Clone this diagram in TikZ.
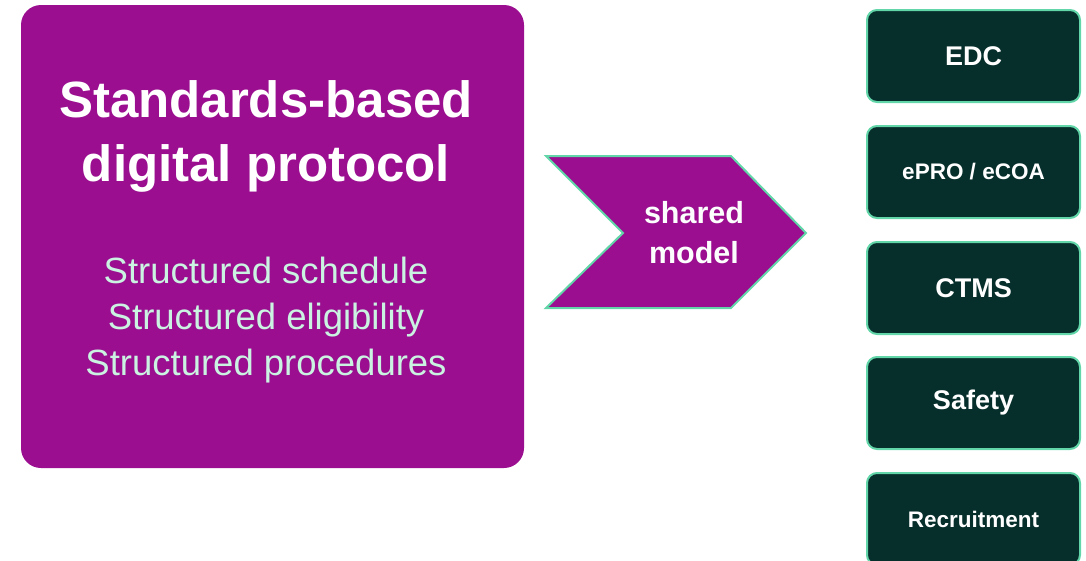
\documentclass[tikz,border=0pt]{standalone}
\usepackage{fontspec}
\setmainfont{Liberation Sans}
\begin{document}
\definecolor{plum}{HTML}{9A0E8F}
\definecolor{mintline}{HTML}{62D6A9}
\definecolor{minttext}{HTML}{CBF3E2}
\definecolor{pine}{HTML}{062E2B}
\begin{tikzpicture}[x=1pt,y=-1pt,
  mainbox/.style={rectangle, rounded corners=20pt, fill=plum, draw=none,
    minimum width=503pt, minimum height=463pt, inner sep=0pt},
  title/.style={anchor=base, text=white, font=\fontsize{51}{60}\selectfont\bfseries},
  bodyline/.style={anchor=base, text=minttext, font=\fontsize{36.5}{44}\selectfont},
  chevtext/.style={anchor=base, text=white!92!minttext, font=\fontsize{30.5}{36}\selectfont\bfseries},
  sysbox/.style={rectangle, rounded corners=10pt, fill=pine, draw=mintline, line width=2pt,
    minimum width=213pt, minimum height=92pt, inner sep=0pt, text=white,
    font=\fontsize{27}{32}\selectfont\bfseries},
  smalltxt/.style={font=\fontsize{22.5}{27}\selectfont\bfseries}]
\useasboundingbox (0,0) rectangle (1086,560);

% protocol panel
\node[mainbox] (protocol) at (272.5,236.5) {};
\node[title] (t1) at (266,117) {Standards-based};
\node[title] (t2) at (266,181) {digital protocol};
\node[bodyline] (b1) at (266,283) {Structured schedule};
\node[bodyline] (b2) at (266,329.5) {Structured eligibility};
\node[bodyline] (b3) at (266,375.5) {Structured procedures};

% chevron carrying the shared model
\draw[fill=plum, draw=mintline, line width=2pt, line join=miter]
  (546,156) -- (731,156) -- (806,233) -- (731,308) -- (546,308) -- (623,233) -- cycle;
\node[chevtext] (s1) at (694,223) {shared};
\node[chevtext] (s2) at (694,263) {model};

% downstream systems
\node[sysbox] (edc) at (973.5,56) {EDC};
\node[sysbox, smalltxt] (epro) at (973.5,172) {ePRO / eCOA};
\node[sysbox] (ctms) at (973.5,288) {CTMS};
\node[sysbox] (safety) at (973.5,403) {Safety};
\node[sysbox, smalltxt] (recruit) at (973.5,519) {Recruitment};
\end{tikzpicture}
\end{document}
